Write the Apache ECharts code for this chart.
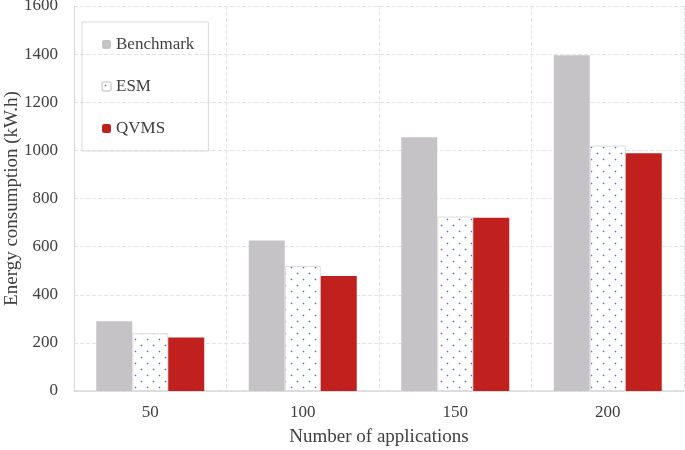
<!DOCTYPE html>
<html><head><meta charset="utf-8">
<script src="https://cdn.jsdelivr.net/npm/echarts@6/dist/echarts.min.js"></script>
<style>html,body{margin:0;padding:0;background:#fff}#c{width:685px;height:450px}</style>
</head><body><div id="c"></div>
<script>
const categories = ['50', '100', '150', '200'];
const benchmark = [290, 625, 1055, 1395];
const esm = [240, 520, 725, 1020];
const qvms = [222, 478, 720, 988];
const yTicks = [0, 200, 400, 600, 800, 1000, 1200, 1400, 1600];

const tile = document.createElement('canvas');
tile.width = 12; tile.height = 12;
const tc = tile.getContext('2d');
tc.fillStyle = '#ffffff'; tc.fillRect(0, 0, 12, 12);
function dot(x, y) {
  tc.fillStyle = 'rgba(100,120,200,0.3)';
  tc.fillRect(x - 1, y, 3, 1); tc.fillRect(x, y - 1, 1, 3);
  tc.fillStyle = '#5a6ec0'; tc.fillRect(x, y, 1, 1);
}
dot(3, 3); dot(9, 9);

const font = '"Liberation Serif", "Times New Roman", serif';
const chart = echarts.init(document.getElementById('c'));
chart.setOption({
  animation: false,
  grid: { left: 74, right: 1, top: 6, bottom: 59, containLabel: false, outerBoundsMode: 'none' },
  legend: {
    orient: 'vertical', left: 82, top: 22,
    padding: [14, 14, 14, 19],
    borderColor: '#d9d9d9', borderWidth: 1,
    itemWidth: 9, itemHeight: 9, itemGap: 25,
    textStyle: { fontFamily: font, fontSize: 17, color: '#404040' },
    data: ['Benchmark', 'ESM', 'QVMS']
  },
  xAxis: {
    type: 'category', data: categories,
    name: 'Number of applications', nameLocation: 'middle', nameGap: 37, nameMoveOverlap: false,
    nameTextStyle: { fontFamily: font, fontSize: 19, color: '#404040' },
    axisLine: { lineStyle: { color: '#d9d9d9', width: 1.5 } },
    axisTick: { show: false },
    axisLabel: { fontFamily: font, fontSize: 17, color: '#404040', margin: 13 },
    splitLine: { show: true, lineStyle: { color: '#e3e3e3', type: 'dashed' } }
  },
  yAxis: {
    type: 'value', min: yTicks[0], max: yTicks[yTicks.length - 1], interval: 200,
    name: 'Energy consumption (kW.h)', nameLocation: 'middle', nameGap: 52, nameMoveOverlap: false,
    nameTextStyle: { fontFamily: font, fontSize: 19, color: '#404040' },
    axisLine: { show: true, lineStyle: { color: '#d9d9d9' } },
    axisTick: { show: false },
    axisLabel: { fontFamily: font, fontSize: 17, color: '#404040', margin: 16,
      formatter: v => String(v) },
    splitLine: { lineStyle: { color: '#e3e3e3', type: 'dashed' } }
  },
  series: [
    { name: 'Benchmark', type: 'bar', data: benchmark, barWidth: 36, barGap: '0%',
      itemStyle: { color: '#c6c3c7' } },
    { name: 'ESM', type: 'bar', data: esm, barWidth: 36, barGap: '0%',
      itemStyle: { color: { image: tile, repeat: 'repeat' }, borderColor: '#dcdcdc', borderWidth: 1 } },
    { name: 'QVMS', type: 'bar', data: qvms, barWidth: 36, barGap: '0%',
      itemStyle: { color: '#c0211f' } }
  ]
});
</script></body></html>
